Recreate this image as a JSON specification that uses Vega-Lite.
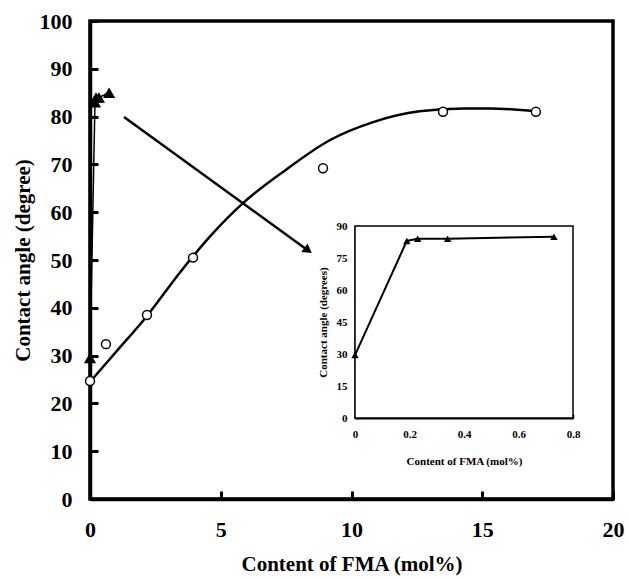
{
  "$schema": "https://vega.github.io/schema/vega-lite/v6.json",
  "width": 523,
  "height": 478,
  "autosize": {"type": "none"},
  "padding": {"left": 90, "top": 21, "right": 15, "bottom": 80},
  "background": "white",
  "config": {
    "view": {"stroke": "black", "strokeWidth": 3.5},
    "font": "Liberation Serif",
    "axis": {"labelFont": "Liberation Serif", "titleFont": "Liberation Serif", "labelFontWeight": "bold", "titleFontWeight": "bold", "labelColor": "black", "titleColor": "black", "domainColor": "black", "tickColor": "black", "grid": false}
  },
  "datasets": {
    "circles": [
      {"fma": 0, "angle": 24.7},
      {"fma": 0.61, "angle": 32.4},
      {"fma": 2.18, "angle": 38.5},
      {"fma": 3.94, "angle": 50.5},
      {"fma": 8.91, "angle": 69.2},
      {"fma": 13.5, "angle": 81.0},
      {"fma": 17.05, "angle": 81.0}
    ],
    "curve": [
      {"fma": 0, "angle": 24.5},
      {"fma": 1.0, "angle": 30.8},
      {"fma": 2.18, "angle": 38.3},
      {"fma": 3.44, "angle": 47.4},
      {"fma": 4.6, "angle": 55.0},
      {"fma": 5.85, "angle": 61.9},
      {"fma": 7.5, "angle": 68.9},
      {"fma": 9.18, "angle": 75.1},
      {"fma": 10.8, "angle": 78.8},
      {"fma": 12.6, "angle": 81.1},
      {"fma": 14.3, "angle": 81.7},
      {"fma": 15.3, "angle": 81.7},
      {"fma": 17.05, "angle": 81.1}
    ],
    "triangles": [
      {"fma": 0, "angle": 29.5},
      {"fma": 0.19, "angle": 83.0},
      {"fma": 0.23, "angle": 84.0},
      {"fma": 0.34, "angle": 84.0},
      {"fma": 0.73, "angle": 85.0}
    ],
    "arrow": [
      {"fma": 1.3, "angle": 79.9, "fma2": 8.34, "angle2": 52.0}
    ],
    "insetframe": [
      {"fma": 0, "angle": 0, "fma2": 0.8, "angle2": 90}
    ]
  },
  "layer": [
    {
      "encoding": {
        "x": {"field": "fma", "type": "quantitative", "scale": {"domain": [0, 20]},
          "axis": {"title": "Content of FMA (mol%)", "values": [0, 5, 10, 15, 20], "labelFontSize": 22, "titleFontSize": 21, "domainWidth": 3.5, "tickWidth": 3, "tickSize": -8, "labelPadding": 28, "titlePadding": 13, "labelFlush": false}},
        "y": {"field": "angle", "type": "quantitative", "scale": {"domain": [0, 100]},
          "axis": {"title": "Contact angle (degree)", "values": [0, 10, 20, 30, 40, 50, 60, 70, 80, 90, 100], "labelFontSize": 22, "titleFontSize": 21, "domainWidth": 3.5, "tickWidth": 3, "tickSize": -8, "labelPadding": 26, "titlePadding": 6, "labelFlush": false}}
      },
      "layer": [
        {"data": {"name": "curve"}, "mark": {"type": "line", "color": "black", "strokeWidth": 2.5, "interpolate": "monotone"}},
        {"data": {"name": "triangles"}, "mark": {"type": "line", "color": "black", "strokeWidth": 1.5}},
        {"data": {"name": "arrow"}, "mark": {"type": "rule", "color": "black", "strokeWidth": 2.5},
          "encoding": {"x2": {"field": "fma2"}, "y2": {"field": "angle2"}}},
        {"data": {"name": "arrow"}, "mark": {"type": "point", "shape": "triangle-right", "filled": true, "color": "black", "size": 110, "angle": 36, "opacity": 1},
          "encoding": {"x": {"field": "fma2", "type": "quantitative"}, "y": {"field": "angle2", "type": "quantitative"}}},
        {"data": {"name": "circles"}, "mark": {"type": "point", "shape": "circle", "filled": true, "fill": "white", "stroke": "black", "strokeWidth": 1.5, "size": 80, "opacity": 1}},
        {"data": {"name": "triangles"}, "mark": {"type": "point", "shape": "triangle-up", "filled": true, "color": "black", "size": 150, "opacity": 1}}
      ]
    },
    {
      "encoding": {
        "x": {"field": "fma", "type": "quantitative", "scale": {"domain": [0, 0.8], "range": [265, 483]},
          "axis": {"orient": "bottom", "offset": -81, "title": "Content of FMA (mol%)", "values": [0, 0.2, 0.4, 0.6, 0.8], "format": ".1~f", "labelFontSize": 11, "titleFontSize": 11, "domainWidth": 2, "tickWidth": 1.5, "tickSize": -4, "labelPadding": 14, "titlePadding": 16, "labelFlush": false}},
        "y": {"field": "angle", "type": "quantitative", "scale": {"domain": [0, 90], "range": [397, 205]},
          "axis": {"orient": "left", "offset": -265, "title": "Contact angle (degrees)", "values": [0, 15, 30, 45, 60, 75, 90], "labelFontSize": 11, "titleFontSize": 11, "domainWidth": 2, "tickWidth": 1.5, "tickSize": -4, "labelPadding": 12, "titlePadding": 8, "labelFlush": false}}
      },
      "layer": [
        {"data": {"name": "insetframe"}, "mark": {"type": "rect", "fill": "white", "stroke": "black", "strokeWidth": 1.5},
          "encoding": {"x2": {"field": "fma2"}, "y2": {"field": "angle2"}}},
        {"data": {"name": "triangles"}, "mark": {"type": "line", "color": "black", "strokeWidth": 2}},
        {"data": {"name": "triangles"}, "mark": {"type": "point", "shape": "triangle-up", "filled": true, "color": "black", "size": 55, "opacity": 1}}
      ]
    }
  ],
  "resolve": {"scale": {"x": "independent", "y": "independent"}, "axis": {"x": "independent", "y": "independent"}}
}
